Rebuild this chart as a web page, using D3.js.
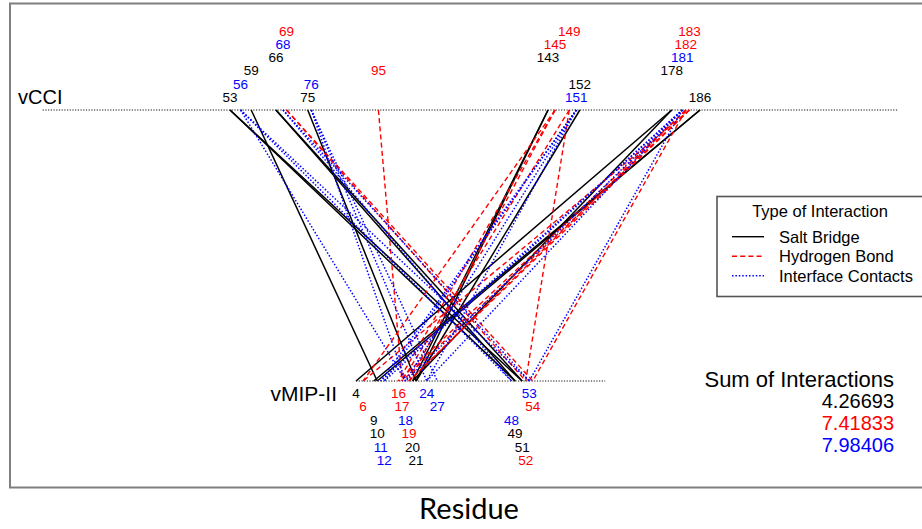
<!DOCTYPE html>
<html>
<head>
<meta charset="utf-8">
<script src="https://cdn.jsdelivr.net/npm/d3@7"></script>
<style>
  html, body { margin: 0; padding: 0; background: #fff; }
  svg { display: block; font-family: "Liberation Sans", Arial, Helvetica, sans-serif; }
</style>
</head>
<body>
<svg id="chart" width="922" height="529"></svg>
<script>
// vCCI interface residues and the interaction class used to colour each label
const vcciResidues   = [53, 56, 59, 66, 68, 69, 75, 76, 95, 143, 145, 149, 151, 152, 178, 181, 182, 183, 186];
const vcciLabelTypes = ["salt", "contact", "salt", "salt", "contact", "hbond", "salt", "contact", "hbond",
                        "salt", "hbond", "hbond", "contact", "salt", "salt", "contact", "hbond", "hbond", "salt"];

// vMIP-II interface residues and their label classes
const vmipResidues   = [4, 6, 9, 10, 11, 12, 16, 17, 18, 19, 20, 21, 24, 27, 48, 49, 51, 52, 53, 54];
const vmipLabelTypes = ["salt", "hbond", "salt", "salt", "contact", "contact", "hbond", "hbond", "contact", "hbond",
                        "salt", "salt", "contact", "contact", "contact", "salt", "salt", "hbond", "contact", "hbond"];

// residue pairs [vCCI, vMIP-II] for each kind of interaction
const saltBridges = [
  [53, 49], [53, 51], [59, 10], [66, 49], [66, 51], [75, 21],
  [143, 20], [143, 21], [152, 21], [178, 4], [178, 20], [186, 9], [186, 10]
];
const hydrogenBonds = [
  [69, 52], [69, 54], [95, 17], [145, 6], [145, 16], [145, 19], [149, 17], [149, 52],
  [182, 16], [182, 19], [182, 54], [183, 6], [183, 17], [183, 19]
];
const interfaceContacts = [
  [56, 18], [56, 48], [56, 53], [68, 48], [68, 53], [76, 18], [76, 24], [76, 27],
  [151, 11], [151, 12], [151, 18], [151, 24], [181, 11], [181, 12], [181, 18], [181, 24], [181, 53]
];

const interactionNames = ["Salt Bridge", "Hydrogen Bond", "Interface Contacts"];
const interactionKeys  = ["salt", "hbond", "contact"];
const interactionSums  = [4.26693, 7.41833, 7.98406];

// ---- styling ----
const colour = d3.scaleOrdinal().domain(interactionKeys).range(["#000000", "#ff0000", "#0000ff"]);
const dash   = d3.scaleOrdinal().domain(interactionKeys).range(["none", "5,3.2", "1.5,1.9"]);
const width  = d3.scaleOrdinal().domain(interactionKeys).range([1.5, 1.4, 1.5]);

const svg = d3.select("#chart");

// residue-position scales for the two chains (same spacing per residue)
const xTop    = d3.scaleLinear().domain([0, 242]).range([42.7, 897.9]);
const xBottom = d3.scaleLinear().domain([0, 75]).range([341.9, 607]);
const yTop = 110, yBottom = 381;

// outer frame
svg.append("rect")
  .attr("x", 10).attr("y", 3.5).attr("width", 940).attr("height", 484)
  .attr("fill", "none").attr("stroke", "#7f7f7f").attr("stroke-width", 2);

// chain baselines
svg.append("line")
  .attr("x1", xTop(0)).attr("x2", xTop(242)).attr("y1", yTop).attr("y2", yTop)
  .attr("stroke", "#111").attr("stroke-width", 1).attr("stroke-dasharray", "1.2,1.5");
svg.append("line")
  .attr("x1", xBottom(4)).attr("x2", xBottom(74.5)).attr("y1", yBottom).attr("y2", yBottom)
  .attr("stroke", "#111").attr("stroke-width", 1).attr("stroke-dasharray", "1.2,1.5");

// interaction lines
const groups = [
  { key: "salt", pairs: saltBridges },
  { key: "hbond", pairs: hydrogenBonds },
  { key: "contact", pairs: interfaceContacts }
];
groups.forEach(g => {
  svg.append("g")
    .selectAll("line")
    .data(g.pairs)
    .join("line")
    .attr("x1", d => xTop(d[0])).attr("y1", yTop)
    .attr("x2", d => xBottom(d[1])).attr("y2", yBottom)
    .attr("stroke", colour(g.key))
    .attr("stroke-width", width(g.key))
    .attr("stroke-dasharray", dash(g.key));
});

// residue labels, stacked in six rows in residue order
const topLabels = vcciResidues.map((r, i) => ({ r, t: vcciLabelTypes[i], level: i % 6 }));
svg.append("g")
  .selectAll("text")
  .data(topLabels)
  .join("text")
  .attr("x", d => xTop(d.r))
  .attr("y", d => 101.7 - 13.2 * d.level)
  .attr("text-anchor", "middle")
  .attr("font-size", 13.5)
  .attr("fill", d => colour(d.t))
  .text(d => d.r);

const bottomLabels = vmipResidues.map((r, i) => ({ r, t: vmipLabelTypes[i], level: i % 6 }));
svg.append("g")
  .selectAll("text")
  .data(bottomLabels)
  .join("text")
  .attr("x", d => xBottom(d.r))
  .attr("y", d => 397.5 + 13.5 * d.level)
  .attr("text-anchor", "middle")
  .attr("font-size", 13.5)
  .attr("fill", d => colour(d.t))
  .text(d => d.r);

// chain names
svg.append("text").attr("x", 18).attr("y", 104).attr("font-size", 20).text("vCCI");
svg.append("text").attr("x", 337).attr("y", 401).attr("text-anchor", "end").attr("font-size", 21).text("vMIP-II");

// legend
const legend = svg.append("g");
legend.append("rect")
  .attr("x", 717).attr("y", 196.5).attr("width", 230).attr("height", 100)
  .attr("fill", "#fff").attr("stroke", "#555").attr("stroke-width", 1.6);
legend.append("text")
  .attr("x", 820).attr("y", 216.5).attr("text-anchor", "middle").attr("font-size", 16.5)
  .text("Type of Interaction");
interactionNames.forEach((name, i) => {
  const y = 242.7 + 19.5 * i;
  legend.append("line")
    .attr("x1", 732).attr("x2", 764).attr("y1", y - 6).attr("y2", y - 6)
    .attr("stroke", colour(interactionKeys[i])).attr("stroke-width", 1.4)
    .attr("stroke-dasharray", dash(interactionKeys[i]));
  legend.append("text").attr("x", 779).attr("y", y).attr("font-size", 16.5).text(name);
});

// interaction totals
svg.append("text").attr("x", 894).attr("y", 386.7).attr("text-anchor", "end")
  .attr("font-size", 22).text("Sum of Interactions");
interactionSums.forEach((v, i) => {
  svg.append("text").attr("x", 894).attr("y", 408.3 + 21.7 * i).attr("text-anchor", "end")
    .attr("font-size", 20).attr("fill", colour(interactionKeys[i])).text(String(v));
});

// axis title
svg.append("text").attr("x", 469).attr("y", 519).attr("text-anchor", "middle")
  .attr("font-family", "Lato, 'Open Sans', sans-serif").attr("font-size", 29).text("Residue");
</script>
</body>
</html>
